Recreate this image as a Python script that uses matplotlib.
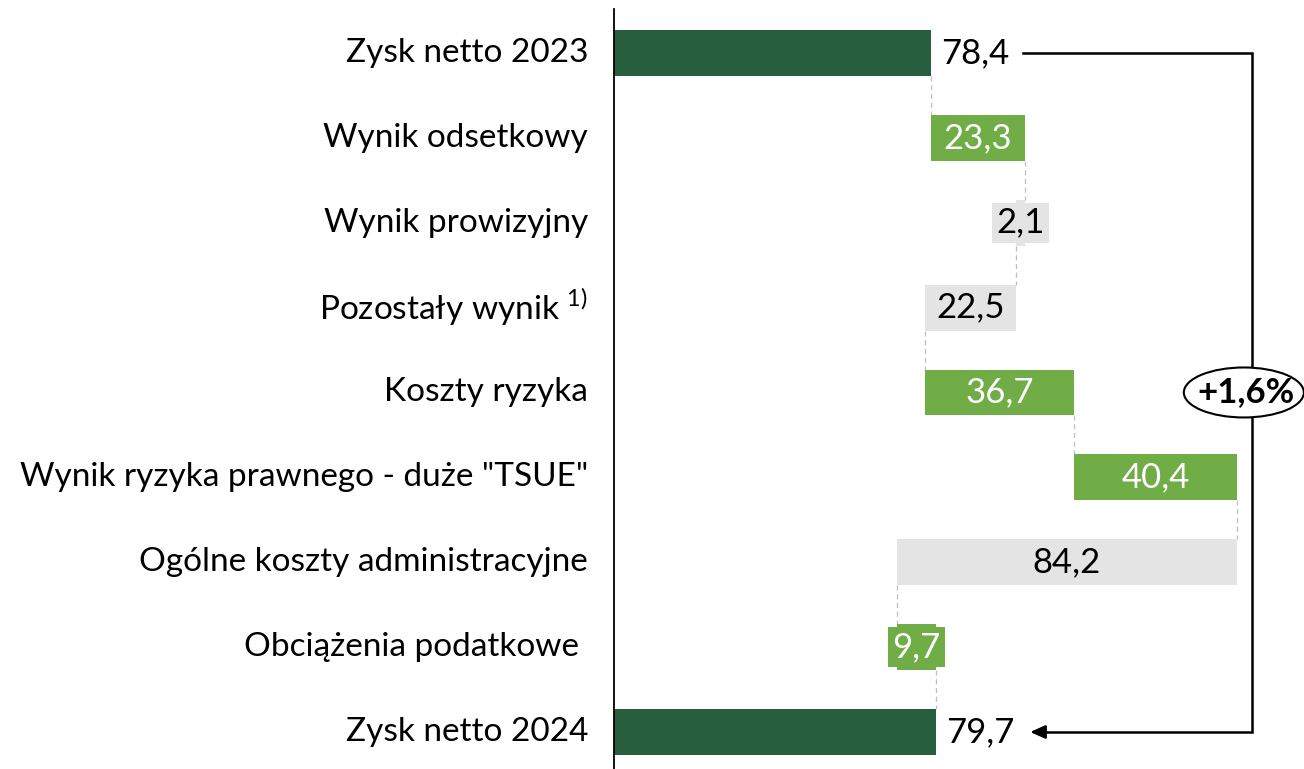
import matplotlib
matplotlib.use("Agg")
import matplotlib.pyplot as plt
from matplotlib.patches import Ellipse

plt.rcParams['font.family'] = ['Lato', 'DejaVu Sans']
plt.rcParams['mathtext.fontset'] = 'custom'
plt.rcParams['mathtext.rm'] = 'Lato'

categories = ["Zysk netto 2023", "Wynik odsetkowy", "Wynik prowizyjny",
              "Pozostały wynik $^\\mathrm{1)}$", "Koszty ryzyka",
              "Wynik ryzyka prawnego - duże \"TSUE\"",
              "Ogólne koszty administracyjne", "Obciążenia podatkowe ",
              "Zysk netto 2024"]
values = [78.4, 23.3, -2.1, -22.5, 36.7, 40.4, -84.2, 9.7, 79.7]
kinds = ["total", "pos", "neg", "neg", "pos", "pos", "neg", "pos", "total"]
labels = ["78,4", "23,3", "2,1", "22,5", "36,7", "40,4", "84,2", "9,7", "79,7"]
change_label = "+1,6%"

colors = {"total": "#265E3E", "pos": "#70AD47", "neg": "#E4E4E4"}
text_colors = {"total": "black", "pos": "white", "neg": "black"}

W, H = 1304, 769
fig = plt.figure(figsize=(W / 100, H / 100), dpi=100)
ax = fig.add_axes([614 / W, 0, 1 - 614 / W, 1])
ax.set_xlim(0, (W - 614) / 4.04)
ax.set_ylim(8.436, -0.624)
ax.axis('off')

CAT_FS = 24
VAL_FS = 25

bh = 0.54
starts, ends = [], []
cum = 0.0
for i, (v, k) in enumerate(zip(values, kinds)):
    if k == "total":
        s, e = 0.0, v
        cum = v
    else:
        s, e = cum, cum + v
        cum = e
    starts.append(s)
    ends.append(e)
    left = min(s, e)
    ax.barh(i, abs(e - s), left=left, height=bh, color=colors[k], zorder=2)
    if k == "total":
        ax.text(e + 2.6, i, labels[i], ha='left', va='center', fontsize=VAL_FS,
                color='black', zorder=4)
    else:
        ax.text((s + e) / 2, i, labels[i], ha='center', va='center', fontsize=VAL_FS,
                color=text_colors[k], zorder=4,
                bbox=dict(boxstyle='square,pad=0.12', fc=colors[k], ec='none'))

# connectors
for i in range(len(values) - 1):
    x = ends[i]
    ax.plot([x, x], [i + bh / 2, i + 1 - bh / 2], color='#BFBFBF', lw=0.9,
            ls=(0, (4, 3)), zorder=1)

# vertical axis line
ax.plot([0, 0], [-0.52, 8.436], color='black', lw=1.3, clip_on=False, zorder=5)

# category labels
for i, c in enumerate(categories):
    ax.text(-26 / 4.04, i, c, ha='right', va='center', fontsize=CAT_FS,
            color='black')

# arrow bracket
x_start = values[0] + 22.8
x_right = 157.9
x_end = values[-1] + 23.3
ax.plot([x_start, x_right, x_right, x_end + 3], [0, 0, 8, 8], color='black',
        lw=1.8, zorder=3, solid_joinstyle='miter')
ax.annotate("", xy=(x_end, 8), xytext=(x_end + 4, 8),
            arrowprops=dict(arrowstyle='-|>,head_length=0.9,head_width=0.4',
                            color='black', lw=1.8, shrinkA=0, shrinkB=0))
ell = Ellipse((155.9, 4), width=120 / 4.04, height=50 / 84.9, fc='white',
              ec='black', lw=1.5, zorder=4, clip_on=False)
ax.add_patch(ell)
ax.text(156.5, 4, change_label, ha='center', va='center', fontsize=VAL_FS,
        fontweight='bold', zorder=5)

fig.savefig("out.png", dpi=100)
